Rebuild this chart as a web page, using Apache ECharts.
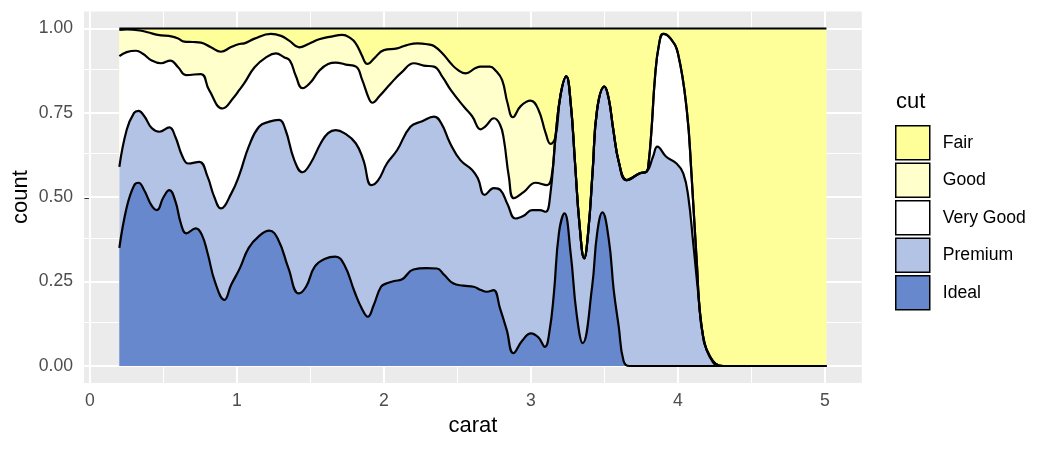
<!DOCTYPE html>
<html>
<head>
<meta charset="utf-8">
<script src="https://cdn.jsdelivr.net/npm/echarts@6/dist/echarts.min.js"></script>
<style>html,body{margin:0;padding:0;background:#fff}#c{width:1050px;height:450px}</style>
</head>
<body>
<div id="c"></div>
<script>
// Cumulative (position = "fill") upper boundaries of each cut
const cutNames = ['Fair', 'Good', 'Very Good', 'Premium', 'Ideal'];
const cutColors = ['#FFFF99', '#FFFFCC', '#FFFFFF', '#B3C3E5', '#6788CC'];

const xTicks = [0, 1, 2, 3, 4, 5];
const yTicks = [0, 0.25, 0.5, 0.75, 1];
const xMinor = [0.5, 1.5, 2.5, 3.5, 4.5];
const yMinor = [0.125, 0.375, 0.625, 0.875];

const fairX = [0.2, 5.01];
const fairY = [1, 1];

const goodX = [0.2,0.25,0.34,0.4,0.461,0.56,0.6,0.642,0.7,0.755,0.82,0.891,0.96,1.016,1.05,1.12,1.231,1.3,1.355,1.423,1.49,1.559,1.64,1.717,1.77,1.808,1.85,1.876,1.89,1.93,2.0,2.09,2.15,2.227,2.3,2.34,2.4,2.454,2.5,2.556,2.62,2.658,2.72,2.76,2.804,2.84,2.877,2.93,2.997,3.05,3.1,3.133,3.167,3.2,3.24,3.27,3.3,3.33,3.362,3.39,3.42,3.45,3.5,3.53,3.56,3.6,3.651,3.741,3.787,3.8,3.82,3.844,3.87,3.9,3.95,4.0,4.06,4.093,4.127,4.161,4.218,4.31,5.01];
const goodY = [0.996,0.997,0.994,0.988,0.981,0.976,0.97,0.961,0.96,0.958,0.945,0.931,0.945,0.954,0.956,0.97,0.984,0.978,0.964,0.944,0.955,0.968,0.976,0.981,0.972,0.956,0.92,0.897,0.895,0.91,0.936,0.941,0.95,0.956,0.953,0.948,0.925,0.897,0.878,0.867,0.882,0.887,0.887,0.875,0.847,0.78,0.737,0.77,0.786,0.76,0.69,0.658,0.679,0.8,0.858,0.78,0.6,0.42,0.319,0.4,0.58,0.76,0.828,0.79,0.7,0.6,0.551,0.571,0.576,0.6,0.7,0.857,0.95,0.984,0.97,0.926,0.758,0.561,0.314,0.117,0.028,0,0];

const veryGoodX = [0.2,0.25,0.314,0.36,0.42,0.484,0.547,0.6,0.653,0.755,0.81,0.902,0.982,1.016,1.05,1.12,1.2,1.265,1.32,1.36,1.4,1.446,1.5,1.56,1.62,1.672,1.74,1.81,1.85,1.9,1.921,1.97,2.046,2.12,2.204,2.27,2.34,2.4,2.454,2.544,2.6,2.658,2.69,2.748,2.79,2.816,2.85,2.884,2.952,3.031,3.11,3.14,3.167,3.2,3.24,3.27,3.3,3.33,3.362,3.39,3.42,3.45,3.5,3.53,3.56,3.6,3.651,3.741,3.787,3.8,3.82,3.844,3.87,3.9,3.95,4.0,4.06,4.093,4.127,4.161,4.218,4.31,5.01];
const veryGoodY = [0.918,0.93,0.934,0.925,0.905,0.897,0.905,0.885,0.862,0.865,0.818,0.763,0.798,0.818,0.838,0.885,0.915,0.926,0.915,0.905,0.86,0.823,0.84,0.875,0.895,0.899,0.893,0.887,0.85,0.79,0.78,0.8,0.837,0.87,0.897,0.89,0.887,0.855,0.818,0.768,0.74,0.701,0.71,0.734,0.715,0.67,0.56,0.497,0.516,0.543,0.536,0.56,0.679,0.8,0.858,0.78,0.6,0.42,0.319,0.4,0.58,0.76,0.828,0.79,0.7,0.6,0.551,0.571,0.576,0.6,0.7,0.857,0.95,0.984,0.97,0.926,0.758,0.561,0.314,0.117,0.028,0,0];

const premiumX = [0.2,0.25,0.3,0.33,0.37,0.42,0.472,0.54,0.58,0.63,0.669,0.744,0.8,0.845,0.891,0.96,1.016,1.08,1.15,1.22,1.287,1.33,1.39,1.446,1.5,1.57,1.62,1.672,1.73,1.808,1.86,1.914,1.96,2.02,2.09,2.18,2.26,2.34,2.39,2.45,2.52,2.6,2.64,2.685,2.748,2.793,2.84,2.895,2.95,3.008,3.06,3.1,3.13,3.167,3.2,3.24,3.27,3.3,3.33,3.362,3.39,3.42,3.45,3.5,3.53,3.56,3.6,3.651,3.741,3.787,3.83,3.86,3.92,3.99,4.036,4.07,4.104,4.138,4.172,4.24,4.3,5.01];
const premiumY = [0.59,0.7,0.75,0.756,0.74,0.705,0.694,0.707,0.68,0.62,0.6,0.605,0.561,0.502,0.467,0.51,0.566,0.65,0.709,0.724,0.729,0.7,0.61,0.574,0.6,0.66,0.69,0.699,0.69,0.66,0.61,0.536,0.55,0.6,0.64,0.709,0.725,0.739,0.719,0.66,0.61,0.581,0.555,0.507,0.527,0.521,0.48,0.437,0.445,0.462,0.462,0.457,0.502,0.679,0.8,0.858,0.78,0.6,0.42,0.319,0.4,0.58,0.76,0.828,0.79,0.7,0.6,0.551,0.571,0.576,0.62,0.65,0.62,0.6,0.571,0.502,0.363,0.215,0.087,0.01,0,0];

const idealX = [0.2,0.25,0.3,0.33,0.37,0.42,0.455,0.5,0.54,0.58,0.62,0.655,0.72,0.76,0.8,0.85,0.915,0.96,1.02,1.08,1.15,1.22,1.28,1.35,1.42,1.47,1.53,1.6,1.67,1.73,1.8,1.85,1.89,1.93,1.98,2.02,2.07,2.12,2.2,2.29,2.36,2.41,2.47,2.54,2.61,2.66,2.7,2.745,2.79,2.835,2.88,2.94,3.0,3.05,3.095,3.125,3.156,3.19,3.228,3.27,3.31,3.352,3.416,3.45,3.486,3.53,3.563,3.597,3.63,3.67,5.01];
const idealY = [0.35,0.47,0.535,0.543,0.52,0.475,0.462,0.5,0.521,0.49,0.42,0.393,0.408,0.39,0.335,0.25,0.196,0.24,0.29,0.35,0.385,0.401,0.375,0.29,0.215,0.235,0.295,0.318,0.324,0.3,0.22,0.17,0.146,0.18,0.235,0.245,0.252,0.256,0.286,0.29,0.289,0.27,0.245,0.238,0.235,0.225,0.22,0.225,0.17,0.107,0.038,0.075,0.097,0.085,0.057,0.1,0.215,0.393,0.452,0.334,0.156,0.068,0.235,0.393,0.455,0.373,0.225,0.117,0.015,0,0];

const boundX = [fairX, goodX, veryGoodX, premiumX, idealX];
const boundY = [fairY, goodY, veryGoodY, premiumY, idealY];

const FONT = '"Liberation Sans", Arial, sans-serif';
const SMOOTH = 0.45;
const pairs = (xs, ys) => xs.map((x, i) => [x, ys[i]]);

const chart = echarts.init(document.getElementById('c'), null, { renderer: 'canvas' });

const areaSeries = cutNames.map((n, i) => ({
  type: 'line', name: n, data: pairs(boundX[i], boundY[i]),
  smooth: SMOOTH, symbol: 'none', showSymbol: false,
  lineStyle: { opacity: 0 }, itemStyle: { color: cutColors[i] },
  areaStyle: { color: cutColors[i], opacity: 1 }, z: 2, silent: true
}));
const lineSeries = cutNames.map((n, i) => ({
  type: 'line', name: n + ' outline', data: pairs(boundX[i], boundY[i]),
  smooth: SMOOTH, symbol: 'none', showSymbol: false,
  lineStyle: { color: '#000', width: 2.2, join: 'round' }, z: 3, silent: true
}));

const gridLines = [].concat(
  xTicks.map(v => ({ xAxis: v, lineStyle: { color: '#fff', width: 2.1, type: 'solid' } })),
  xMinor.map(v => ({ xAxis: v, lineStyle: { color: '#fff', width: 1.05, type: 'solid' } })),
  yTicks.map(v => ({ yAxis: v, lineStyle: { color: '#fff', width: 2.1, type: 'solid' } })),
  yMinor.map(v => ({ yAxis: v, lineStyle: { color: '#fff', width: 1.05, type: 'solid' } }))
);

chart.setOption({
  animation: false,
  grid: { left: 84, right: 188.2, top: 11.6, bottom: 67.1, show: true, backgroundColor: '#EBEBEB', borderWidth: 0 },
  xAxis: {
    type: 'value', min: -0.0405, max: 5.2505,
    axisLine: { show: false }, splitLine: { show: false },
    axisTick: { show: true, length: 5.5, customValues: xTicks, lineStyle: { color: '#333333', width: 2 } },
    axisLabel: { customValues: xTicks, margin: 9, fontSize: 17.6, color: '#4D4D4D', fontFamily: FONT }
  },
  yAxis: {
    type: 'value', min: -0.05, max: 1.05,
    axisLine: { show: false }, splitLine: { show: false },
    axisTick: { show: true, length: 5.5, customValues: yTicks, lineStyle: { color: '#333333', width: 2 } },
    axisLabel: { customValues: yTicks, margin: 11, fontSize: 17.6, color: '#4D4D4D', fontFamily: FONT,
      formatter: v => Number(v).toFixed(2) }
  },
  legend: {
    orient: 'vertical', left: 895, top: 125, padding: 0, itemWidth: 34, itemHeight: 34, itemGap: 2,
    selectedMode: false, icon: 'rect',
    itemStyle: { borderColor: '#000', borderWidth: 1.5 },
    textStyle: { fontSize: 17.6, color: '#000', fontFamily: FONT, padding: [0, 0, 0, 8] },
    data: cutNames
  },
  graphic: [
    { type: 'text', x: 21, y: 197, rotation: Math.PI / 2,
      style: { text: 'count', font: '22px ' + FONT, fill: '#000', align: 'center', verticalAlign: 'middle' } },
    { type: 'text', x: 473, y: 426,
      style: { text: 'carat', font: '22px ' + FONT, fill: '#000', align: 'center', verticalAlign: 'middle' } },
    { type: 'text', x: 896, y: 102,
      style: { text: 'cut', font: '22px ' + FONT, fill: '#000', align: 'left', verticalAlign: 'middle' } }
  ],
  series: [{
    type: 'line', name: 'grid', data: [[-0.04, -0.05]], symbol: 'none', lineStyle: { opacity: 0 }, z: 1, silent: true,
    markLine: { z: 1, silent: true, symbol: ['none', 'none'], label: { show: false }, animation: false, data: gridLines }
  }].concat(areaSeries, lineSeries)
});
</script>
</body>
</html>
